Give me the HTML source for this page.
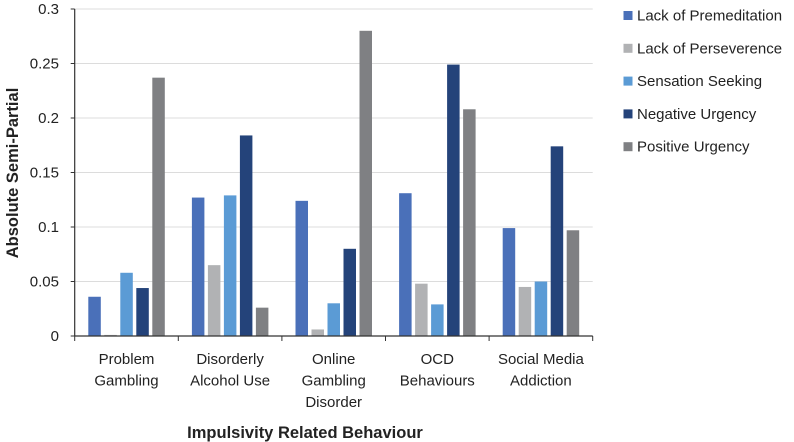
<!DOCTYPE html>
<html><head><meta charset="utf-8"><style>
html,body{margin:0;padding:0;background:#fff;}
svg{display:block;font-family:"Liberation Sans",sans-serif;}
</style></head><body>
<svg id="chart" width="794" height="442" viewBox="0 0 794 442"></svg>
<script>
const categories=[["Problem","Gambling"],["Disorderly","Alcohol Use"],["Online","Gambling","Disorder"],["OCD","Behaviours"],["Social Media","Addiction"]];
const seriesNames=["Lack of Premeditation","Lack of Perseverence","Sensation Seeking","Negative Urgency","Positive Urgency"];
const premeditation=[0.036,0.127,0.124,0.131,0.099];
const perseverence=[0.001,0.065,0.006,0.048,0.045];
const sensation=[0.058,0.129,0.030,0.029,0.050];
const negUrgency=[0.044,0.184,0.080,0.249,0.174];
const posUrgency=[0.237,0.026,0.280,0.208,0.097];
const yTicks=[0,0.05,0.1,0.15,0.2,0.25,0.3];
const yTickLabels=["0","0.05","0.1","0.15","0.2","0.25","0.3"];
const series=[premeditation,perseverence,sensation,negUrgency,posUrgency];
const colors=["#4a70b9","#b1b2b4","#5b9bd5","#24437a","#7f8083"];
const NS="http://www.w3.org/2000/svg";
const svg=document.getElementById('chart');
const x0=74.7,x1=592.7,y0=336,yTop=9,yMax=0.3;
const gw=(x1-x0)/categories.length;
function y(v){return y0-(v/yMax)*(y0-yTop);}
function mk(t,a,p){const e=document.createElementNS(NS,t);for(const k in a)e.setAttribute(k,a[k]);(p||svg).appendChild(e);return e;}
yTicks.forEach((v,i)=>{
  if(v>0){const g=mk('line',{x1:x0,x2:x1,y1:y(v),y2:y(v),stroke:'#dcdcdc','stroke-width':1});
  
  }
  const tk=mk('line',{x1:x0-4,x2:x0,y1:y(v),y2:y(v),stroke:'#333'});
  
  
  const t=mk('text',{x:59,y:y(v)+5,'text-anchor':'end','font-size':15,fill:'#222'});
  t.textContent=yTickLabels[i];
  
  
});
series.forEach((s,si)=>{
  s.forEach((v,ci)=>{
    const bx=x0+ci*gw+13.6+si*16;
    const r=mk('rect',{x:bx,y:y(v),width:12.5,height:y0-y(v),fill:colors[si]});
    
    
  });
});
const ax=mk('line',{x1:x0,x2:x0,y1:yTop,y2:y0,stroke:'#333','stroke-width':1.2});


const bx=mk('line',{x1:x0,x2:x1,y1:y0,y2:y0,stroke:'#333','stroke-width':1.2});


for(let i=0;i<=categories.length;i++){
  const t=mk('line',{x1:x0+i*gw,x2:x0+i*gw,y1:y0,y2:y0+5,stroke:'#333'});
  
  
}
categories.forEach((c,ci)=>{
  c.forEach((ln,li)=>{
    const t=mk('text',{x:x0+(ci+0.5)*gw,y:364+li*21.5,'text-anchor':'middle','font-size':15,fill:'#222'});
    t.textContent=ln;
    
    
  });
});
const xt=mk('text',{x:305,y:438,'text-anchor':'middle','font-size':16.5,'font-weight':'bold',fill:'#222'});
xt.textContent='Impulsivity Related Behaviour';


const yt=mk('text',{x:0,y:0,'text-anchor':'middle','font-size':16.5,'font-weight':'bold',fill:'#222',transform:'translate(18,173) rotate(-90)'});
yt.textContent='Absolute Semi-Partial';


seriesNames.forEach((n,i)=>{
  const g=mk('g',{});
  
  
  mk('rect',{x:623.5,y:11+i*32.8,width:9,height:9,fill:colors[i]},g);
  const t=mk('text',{x:637,y:20.5+i*32.8,'font-size':15,fill:'#222'},g);
  t.textContent=n;
});
</script>
</body></html>
